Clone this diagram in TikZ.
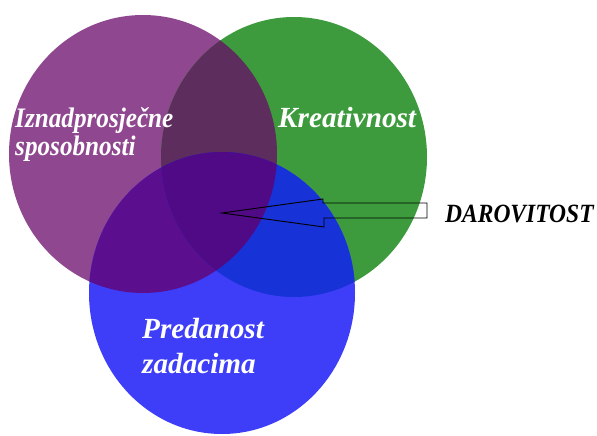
\documentclass[tikz,border=0pt]{standalone}
\usepackage{fontspec}
\setmainfont{Liberation Serif}
\newcommand{\tallt}[1]{\scalebox{1}[1.12]{#1}}
\begin{document}
\begin{tikzpicture}[x=1pt,y=-1pt,
  lbl/.style={inner sep=0pt,anchor=base west,text=white,font=\bfseries\itshape},
  dlbl/.style={inner sep=0pt,anchor=base west,text=black,font=\bfseries\itshape\fontsize{23.5}{28}\selectfont}]
\definecolor{cP}{HTML}{8F4790}
\definecolor{cG}{HTML}{3D9B3D}
\definecolor{cB}{HTML}{3E3EF8}
\definecolor{cPG}{HTML}{5D2D5D}
\definecolor{cPB}{HTML}{5B0E8D}
\definecolor{cGB}{HTML}{1732D6}
\definecolor{cPGB}{HTML}{500A86}
\useasboundingbox (0,0) rectangle (597,436);
\fill[white] (0,0) rectangle (597,436);
\def\ellP{(143,154) ellipse [x radius=134, y radius=139]}
\def\ellG{(294,157) ellipse [x radius=133, y radius=140]}
\def\ellB{(222,293) ellipse [x radius=133, y radius=141]}
\fill[cP] \ellP;
\fill[cG] \ellG;
\fill[cB] \ellB;
\begin{scope}\clip \ellP; \fill[cPG] \ellG; \end{scope}
\begin{scope}\clip \ellP; \fill[cPB] \ellB; \end{scope}
\begin{scope}\clip \ellG; \fill[cGB] \ellB; \end{scope}
\begin{scope}\clip \ellP; \clip \ellG; \fill[cPGB] \ellB; \end{scope}
% labels
\node[lbl,font=\bfseries\itshape\fontsize{25.2}{30}\selectfont] (iz) at (15,127) {\tallt{Iznadprosječne}};
\node[lbl,font=\bfseries\itshape\fontsize{25.2}{30}\selectfont] (sp) at (15,155) {\tallt{sposobnosti}};
\node[lbl,font=\bfseries\itshape\fontsize{29.2}{34}\selectfont] (kr) at (278,127) {Kreativnost};
\node[lbl,font=\bfseries\itshape\fontsize{29.2}{34}\selectfont] (pr) at (142,338) {Predanost};
\node[lbl,font=\bfseries\itshape\fontsize{29.2}{34}\selectfont] (za) at (142,373) {zadacima};
\node[dlbl] (dar) at (445,222) {\tallt{DAROVITOST}};
% block arrow
\coordinate (tip) at (222,213);
\coordinate (ht) at (323,199);
\coordinate (hb) at (324,227);
\coordinate (st) at (323,203);
\coordinate (sb) at (324,218);
\coordinate (et) at (427,203);
\coordinate (eb) at (427,218);
\draw[black,line width=0.9pt,line join=miter] (tip) -- (ht) -- (st) -- (et) -- (eb) -- (sb) -- (hb) -- cycle;
\end{tikzpicture}
\end{document}
